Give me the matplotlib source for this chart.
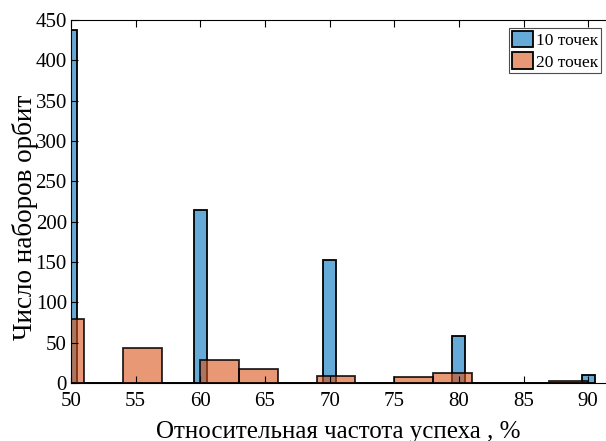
import numpy as np
import matplotlib
matplotlib.use("Agg")
import matplotlib.pyplot as plt
from matplotlib.patches import Patch

# 10 points: bins of width 1 centred on integers, only these are non-zero
blue_edges_lo, blue_edges_hi = 49.5, 90.5
blue_centers = [50, 60, 70, 80, 90]
blue_counts = [437, 214, 153, 58, 10]

# 20 points: bins of width 3 from 48 to 90
orange_edges = [48, 51, 54, 57, 60, 63, 66, 69, 72, 75, 78, 81, 84, 87, 90]
orange_counts = [79, 0, 44, 0, 28, 17, 0, 9, 0, 7, 12, 0, 0, 3]

xticks = [50, 55, 60, 65, 70, 75, 80, 85, 90]
yticks = [0, 50, 100, 150, 200, 250, 300, 350, 400, 450]
labels = ['10 точек', '20 точек']

blue_c = (0.0, 0.447, 0.741)
orange_c = (0.85, 0.325, 0.098)

plt.rcParams['font.family'] = ['Liberation Serif', 'DejaVu Serif']

fig = plt.figure(figsize=(6.06, 4.41), dpi=100)
# axes right edge sits just past the picture edge, like the original crop
axw = 41.4 * 12.93
ax = fig.add_axes([71 / 606, 58 / 441, axw / 606, 363 / 441])

# full list of blue bins (zeros where nothing was counted)
b_left = np.arange(blue_edges_lo, blue_edges_hi, 1.0)
b_height = np.zeros(len(b_left))
for c, n in zip(blue_centers, blue_counts):
    b_height[int(round(c - blue_edges_lo - 0.5))] = n

ax.bar(b_left, b_height, width=1.0, align='edge', color=blue_c, alpha=0.6,
       edgecolor='none')
ax.bar(b_left, b_height, width=1.0, align='edge', facecolor='none',
       edgecolor='black', linewidth=1.3)

o_left = np.array(orange_edges[:-1], dtype=float)
o_width = np.diff(orange_edges)
ax.bar(o_left, orange_counts, width=o_width, align='edge', color=orange_c,
       alpha=0.6, edgecolor='none')
ax.bar(o_left, orange_counts, width=o_width, align='edge', facecolor='none',
       edgecolor='black', linewidth=1.3, alpha=0.85)

ax.set_xlim(50, 91.4)
ax.set_ylim(0, 450)
ax.set_xticks(xticks)
ax.set_yticks(yticks)
ax.tick_params(direction='in', top=True, right=False, labelsize=15,
               length=5, width=0.8, pad=3)
ax.tick_params(axis='x', pad=6.5)
for s in ax.spines.values():
    s.set_linewidth(0.8)
ax.spines['right'].set_visible(False)

ax.set_xlabel('Относительная частота успеха , %', fontsize=18, labelpad=7)
ax.set_ylabel('Число наборов орбит', fontsize=19.5)
ax.yaxis.set_label_coords(-33 / axw, (383 - 217) / 363)

handles = [Patch(edgecolor='black', linewidth=1.3),
           Patch(edgecolor='black', linewidth=1.3)]
# lighten faces the same way alpha 0.6 over white does
for p, c in zip(handles, [blue_c, orange_c]):
    p.set_facecolor(tuple(0.4 + 0.6 * v for v in c))
leg = ax.legend(handles, labels, loc='upper right',
                bbox_to_anchor=(601 / 606, 1 - 28 / 441),
                bbox_transform=fig.transFigure, fontsize=12.5, handlelength=1.2,
                handleheight=1.1, handletextpad=0.2, borderpad=0.15,
                labelspacing=0.2, fancybox=False, framealpha=1,
                borderaxespad=0)
leg.get_frame().set_edgecolor('0.3')
leg.get_frame().set_linewidth(0.8)

fig.savefig('out.png', dpi=100)
